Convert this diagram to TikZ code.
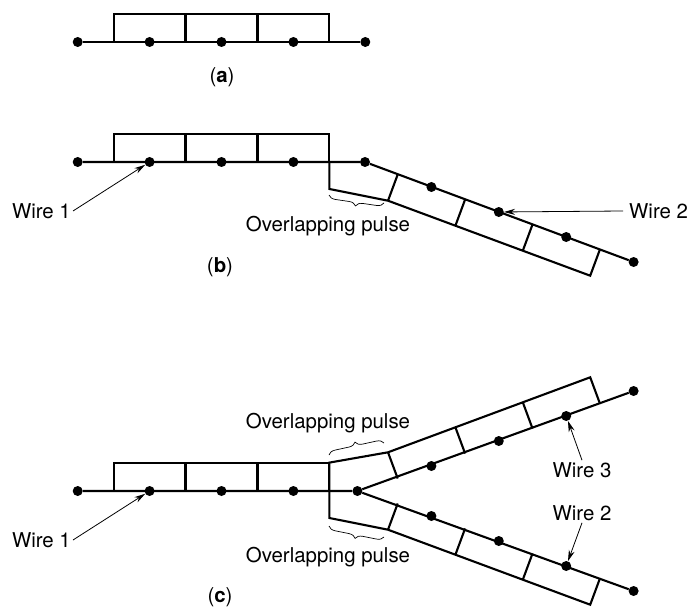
\documentclass[tikz,border=0pt]{standalone}
\usepackage{fontspec}
\setmainfont{TeX Gyre Heros}
\usetikzlibrary{arrows.meta,decorations.pathreplacing}

% one straight stretch of wire with three pulse boxes above it
% #1 name prefix, #2 y of the wire
\newcommand\pulserow[2]{%
  \begin{scope}[shift={(0,#2)}]
    \foreach \k in {0,...,3} \node[dot] (#1\k) at ({77.7+71.9*\k},0) {};
    \draw[box] (113.6,0) |- (329.4,-28.4) -- (329.4,0);
    \draw[box] (185.5,-28.4) -- (185.5,0) (257.5,-28.4) -- (257.5,0);
  \end{scope}}

% a slanted branch leaving the junction, boxes on its outer side
% #1 name prefix, #2 depth of the outer edge at the junction
\newcommand\pulsebranch[2]{%
  \foreach \k in {1,...,4} \node[dot] (#1\k) at ({364+67.4*\k},{25*\k}) {};
  \foreach \k in {1,2,3} \draw[box] ({364+67.4*(\k-0.5)},{25*(\k-0.5)}) -- ++(-9.7,26.2);
  \draw[box] (329.4,0) -- (329.4,#2) -- ({364+33.7-9.7},{12.5+26.2})
    -- ({364+67.4*3.5-9.7},{87.5+26.2}) -- ++(9.7,-26.2);}

\begin{document}
\begin{tikzpicture}[x=1bp,y=-1bp,
  box/.style={line width=2.1bp},
  wire/.style={line width=2.1bp},
  dot/.style={circle,fill,inner sep=0pt,minimum size=10bp},
  lbl/.style={font=\fontsize{20.5}{24}\selectfont,inner sep=2bp},
  ptr/.style={line width=0.8bp,-{Stealth[length=11bp,width=6bp]}},
  brc/.style={line width=0.7bp,decorate,decoration={brace,amplitude=7bp}},
  brcm/.style={line width=0.7bp,decorate,decoration={brace,mirror,amplitude=7bp}}]
\useasboundingbox (0,0) rectangle (695,608);

% (a) a single wire
\pulserow{a}{42}
\node[dot] (a4) at (365.3,42) {};
\draw[wire] (a0) -- (a4);
\node[lbl] (la) at (222,77) {(\textbf{a})};

% (b) wire 1 joined to wire 2
\pulserow{b}{162}
\node[dot] (bj) at (365,162) {};
\begin{scope}[shift={(0,162)}]
  \pulsebranch{bl}{27}
\end{scope}
\draw[wire] (b0) -- (bj) -- (bl4);
\draw[brcm] (329,195) -- (384,203);
\node[lbl] (opb) at (328,226) {Overlapping pulse};
\node[lbl,anchor=east] (w1b) at (73,211) {Wire 1};
\draw[ptr] (w1b.east) -- (b1);
\node[lbl,anchor=west] (w2b) at (627,211) {Wire 2};
\draw[ptr] ([xshift=-4bp]w2b.west) -- (bl2);
\node[lbl] (lb) at (220,267) {(\textbf{b})};

% (c) wire 1 splitting into wires 2 and 3
\pulserow{c}{491}
\node[dot] (cj) at (357.4,491) {};
\begin{scope}[shift={(0,491)}]
  \pulsebranch{cl}{27}
\end{scope}
\begin{scope}[shift={(0,491)},yscale=-1]
  \pulsebranch{cu}{28.4}
\end{scope}
\draw[wire] (c0) -- (cj) -- (cl4);
\draw[wire] (cj) -- (cu4);
\draw[brc] (329,455) -- (384,443);
\draw[brcm] (329,526) -- (384,537);
\node[lbl] (opcu) at (328,423) {Overlapping pulse};
\node[lbl] (opcl) at (328,557) {Overlapping pulse};
\node[lbl,anchor=east] (w1c) at (73,540) {Wire 1};
\draw[ptr] (w1c.east) -- (c1);
\node[lbl] (w3c) at (582,470) {Wire 3};
\draw[ptr] (w3c.north) -- (cu3);
\node[lbl] (w2c) at (582,513) {Wire 2};
\draw[ptr] (w2c.south) -- (cl3);
\node[lbl] (lc) at (220,597) {(\textbf{c})};
\end{tikzpicture}
\end{document}
